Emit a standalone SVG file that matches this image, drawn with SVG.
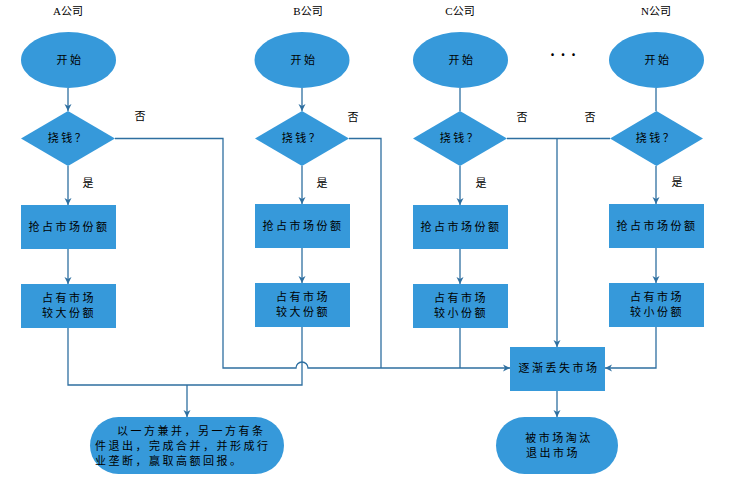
<svg xmlns="http://www.w3.org/2000/svg" width="756" height="503" viewBox="0 0 756 503">
<style>
.n{fill:#3699DA;}
.t{font-family:"Noto Sans CJK SC","Liberation Sans",sans-serif;font-size:11px;fill:#000;text-anchor:middle;letter-spacing:2.5px;}
.h{font-family:"Liberation Serif","Noto Sans CJK SC",serif;font-size:11px;fill:#000;text-anchor:middle;}
.l{font-family:"Noto Sans CJK SC",sans-serif;font-size:11px;fill:#000;text-anchor:middle;}
.c{fill:none;stroke:#2E6FA0;stroke-width:1.3;}
</style>
<defs>
<marker id="a" markerWidth="8" markerHeight="8" refX="7" refY="4" orient="auto" markerUnits="userSpaceOnUse">
<path d="M0,0.5 L7,4 L0,7.5 L2,4 Z" fill="#2E6FA0"/>
</marker>
</defs>
<g id="labels">
<text class="h" x="68" y="15">A公司</text>
<text class="h" x="308" y="15">B公司</text>
<text class="h" x="460" y="15">C公司</text>
<text class="h" x="656" y="15">N公司</text>
<text class="l" x="566" y="56" style="font-weight:bold;font-size:14px;letter-spacing:6px">...</text>
<text class="l" x="140" y="120">否</text>
<text class="l" x="353" y="121">否</text>
<text class="l" x="522" y="121">否</text>
<text class="l" x="590" y="121">否</text>
<text class="l" x="88" y="187">是</text>
<text class="l" x="322" y="187">是</text>
<text class="l" x="481" y="187">是</text>
<text class="l" x="677" y="186">是</text>
</g>
<g id="connectors">
<path class="c" d="M68,88 V111" marker-end="url(#a)"/>
<path class="c" d="M302,88 V111" marker-end="url(#a)"/>
<path class="c" d="M460,88 V111"/>
<path class="c" d="M656,88 V111"/>
<path class="c" d="M68,166 V205" marker-end="url(#a)"/>
<path class="c" d="M302,166 V204" marker-end="url(#a)"/>
<path class="c" d="M460,166 V205" marker-end="url(#a)"/>
<path class="c" d="M656,166 V204" marker-end="url(#a)"/>
<path class="c" d="M68,249 V284" marker-end="url(#a)"/>
<path class="c" d="M302,248 V283" marker-end="url(#a)"/>
<path class="c" d="M460,249 V284" marker-end="url(#a)"/>
<path class="c" d="M656,248 V283" marker-end="url(#a)"/>
<path class="c" d="M68,328 V385 H302 V327"/>
<path class="c" d="M187,385 V417" marker-end="url(#a)"/>
<path class="c" d="M115,138.5 H223 V368 H296 A6,6 0 0 1 308,368 H510" marker-end="url(#a)"/>
<path class="c" d="M349,138.5 H381 V368"/>
<path class="c" d="M460,328 V368"/>
<path class="c" d="M507,138.5 H610"/>
<path class="c" d="M557,138.5 V347" marker-end="url(#a)"/>
<path class="c" d="M656,327 V368 H605" marker-end="url(#a)"/>
<path class="c" d="M557,391 V417" marker-end="url(#a)"/>
</g>
<g id="startA"><ellipse class="n" cx="68.5" cy="60" rx="47.5" ry="28"/><text class="t" x="70" y="64">开始</text></g>
<g id="startB"><ellipse class="n" cx="302" cy="60" rx="47.5" ry="28"/><text class="t" x="304" y="64">开始</text></g>
<g id="startC"><ellipse class="n" cx="460.5" cy="60" rx="47.5" ry="28"/><text class="t" x="462" y="64">开始</text></g>
<g id="startN"><ellipse class="n" cx="656.5" cy="60" rx="47.5" ry="28"/><text class="t" x="658" y="64">开始</text></g>
<g id="decA"><polygon class="n" points="68,111 115,138.5 68,166 21,138.5"/><text class="t" x="68" y="142">挠钱？</text></g>
<g id="decB"><polygon class="n" points="302,111 349,138.5 302,166 255,138.5"/><text class="t" x="302" y="142">挠钱？</text></g>
<g id="decC"><polygon class="n" points="460,111 507,138.5 460,166 413,138.5"/><text class="t" x="460" y="142">挠钱？</text></g>
<g id="decN"><polygon class="n" points="656.5,111 703,138.5 656.5,166 610,138.5"/><text class="t" x="656" y="142">挠钱？</text></g>
<g id="grabA"><rect class="n" x="21" y="205" width="95" height="44"/><text class="t" x="69" y="231">抢占市场份额</text></g>
<g id="grabB"><rect class="n" x="255" y="204" width="95" height="44"/><text class="t" x="303" y="230">抢占市场份额</text></g>
<g id="grabC"><rect class="n" x="413" y="205" width="95" height="44"/><text class="t" x="461" y="231">抢占市场份额</text></g>
<g id="grabN"><rect class="n" x="609" y="204" width="95" height="44"/><text class="t" x="657" y="230">抢占市场份额</text></g>
<g id="holdA"><rect class="n" x="21" y="284" width="95" height="44"/><text class="t" x="69" y="302">占有市场</text><text class="t" x="69" y="317">较大份额</text></g>
<g id="holdB"><rect class="n" x="255" y="283" width="95" height="44"/><text class="t" x="303" y="301">占有市场</text><text class="t" x="303" y="316">较大份额</text></g>
<g id="holdC"><rect class="n" x="413" y="284" width="95" height="44"/><text class="t" x="461" y="302">占有市场</text><text class="t" x="461" y="317">较小份额</text></g>
<g id="holdN"><rect class="n" x="609" y="283" width="95" height="44"/><text class="t" x="657" y="301">占有市场</text><text class="t" x="657" y="316">较小份额</text></g>
<g id="lose"><rect class="n" x="510" y="347" width="95" height="44"/><text class="t" x="559" y="372">逐渐丢失市场</text></g>
<g id="merge"><rect class="n" x="90" y="417" width="194" height="57" rx="28.5"/>
<text class="t" x="117" y="435" style="text-anchor:start">以一方兼并，另一方有条</text>
<text class="t" x="95" y="450" style="text-anchor:start">件退出，完成合并，并形成行</text>
<text class="t" x="95" y="465" style="text-anchor:start">业垄断，赢取高额回报。</text></g>
<g id="out"><rect class="n" x="496" y="417" width="122" height="57" rx="28.5"/><text class="t" x="559" y="442">被市场淘汰</text><text class="t" x="553" y="457">退出市场</text></g>
</svg>
